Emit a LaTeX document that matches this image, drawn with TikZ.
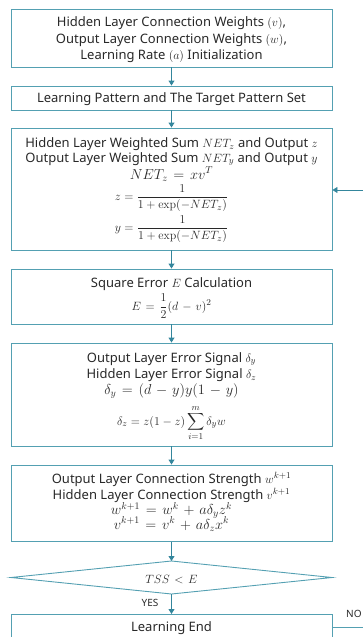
\documentclass[tikz,border=0pt]{standalone}
\usepackage{amsmath}
\usepackage[no-math]{fontspec}
\setmainfont{Noto Sans}
\usetikzlibrary{arrows.meta}
\definecolor{boxc}{RGB}{84,160,178}
\definecolor{arrc}{RGB}{52,134,156}
\definecolor{txt}{RGB}{40,40,40}
\newcommand\eqspacing{\medmuskip=6mu\relax\thickmuskip=7mu\relax}
\tikzset{
  stepbox/.style={draw=boxc, line width=0.9pt, minimum width=321pt, inner sep=0pt},
  ln/.style={anchor=base, inner sep=0pt, text=txt, font=\fontsize{13}{16}\selectfont},
  eq/.style={anchor=base, inner sep=0pt, text=txt, font=\fontsize{14}{16}\selectfont\eqspacing},
  flow/.style={draw=arrc, line width=0.9pt, -{Triangle[length=5pt,width=6pt]}},
  lbl/.style={anchor=base, text=txt, font=\fontsize{10}{12}\selectfont, inner sep=0pt}
}
\begin{document}
\begin{tikzpicture}[x=1pt,y=-1pt]
\useasboundingbox (0,0) rectangle (363,637);
\clip (0,0) rectangle (363,637);
% boxes
\node[stepbox, minimum height=58pt] (b1) at (171.5,38) {};
\node[stepbox, minimum height=24pt] (b2) at (171.5,98) {};
\node[stepbox, minimum height=122pt] (b3) at (171.5,189) {};
\node[stepbox, minimum height=55pt] (b4) at (171.5,296.5) {};
\node[stepbox, minimum height=103pt] (b5) at (171.5,394.5) {};
\node[stepbox, minimum height=76.5pt] (b6) at (171.5,503.25) {};
\coordinate (dT) at (171.5,561);
\coordinate (dB) at (171.5,594);
\coordinate (dL) at (11,577.5);
\coordinate (dR) at (332,577.5);
\draw[draw=boxc, line width=0.9pt] (dT) -- (dR) -- (dB) -- (dL) -- cycle;
\node[stepbox, minimum height=30pt, anchor=north] (b7) at (171.5,614) {};
% texts
\node[ln] (t11) at (171.5,27) {Hidden Layer Connection Weights $(v)$,};
\node[ln] (t12) at (171.5,43) {Output Layer Connection Weights $(w)$,};
\node[ln] (t13) at (171.5,59) {Learning Rate $(a)$ Initialization};
\node[ln] (t21) at (171.5,102.5) {Learning Pattern and The Target Pattern Set};
\node[ln] (t31) at (171.5,147.5) {Hidden Layer Weighted Sum $NET_z$ and Output $z$};
\node[ln] (t32) at (171.5,162) {Output Layer Weighted Sum $NET_y$ and Output $y$};
\node[eq] (t33) at (171.5,179) {$NET_z = xv^T$};
\node[ln] (t34) at (171.5,200.5) {$z = \dfrac{1}{1+\exp(-NET_z)}$};
\node[ln] (t35) at (171.5,231.5) {$y = \dfrac{1}{1+\exp(-NET_z)}$};
\node[ln] (t41) at (171.5,287.5) {Square Error $E$ Calculation};
\node[ln] (t42) at (171.5,310) {\eqspacing$E = \dfrac{1}{2}(d-v)^2$};
\node[ln] (t51) at (171.5,362) {Output Layer Error Signal $\delta_y$};
\node[ln] (t52) at (171.5,378.5) {Hidden Layer Error Signal $\delta_z$};
\node[eq] (t53) at (171.5,394.5) {$\delta_y = (d-y)y(1-y)$};
\node[ln] (t54) at (171.5,425) {$\delta_z = z(1-z)\displaystyle\sum_{i=1}^{m}\delta_y w$};
\node[ln] (t61) at (171.5,483) {Output Layer Connection Strength $w^{k+1}$};
\node[ln] (t62) at (171.5,499) {Hidden Layer Connection Strength $v^{k+1}$};
\node[eq] (t63) at (171.5,514.5) {$w^{k+1} = w^k + a\delta_y z^k$};
\node[eq] (t64) at (171.5,529) {$v^{k+1} = v^k + a\delta_z x^k$};
\node[ln] (dec) at (171.5,583) {\eqspacing$TSS < E$};
\node[ln] (t71) at (171.5,631.5) {Learning End};
% connectors
\draw[flow] (b1) -- (b2);
\draw[flow] (b2) -- (b3);
\draw[flow] (b3) -- (b4);
\draw[flow] (b4) -- (b5);
\draw[flow] (b5) -- (b6);
\draw[flow] (b6.south) -- (dT);
\draw[flow] (dB) -- (b7.north);
\node[lbl] (yes) at (150,606.5) {YES};
\node[lbl, anchor=base west] (no) at (346,617) {NO};
\coordinate (noE) at (363,627);
\draw[draw=boxc, line width=0.9pt] (b7.east |- noE) -- (noE);
\coordinate (fbS) at (363,190);
\draw[flow] (fbS) -- (b3.east |- fbS);
\end{tikzpicture}
\end{document}
